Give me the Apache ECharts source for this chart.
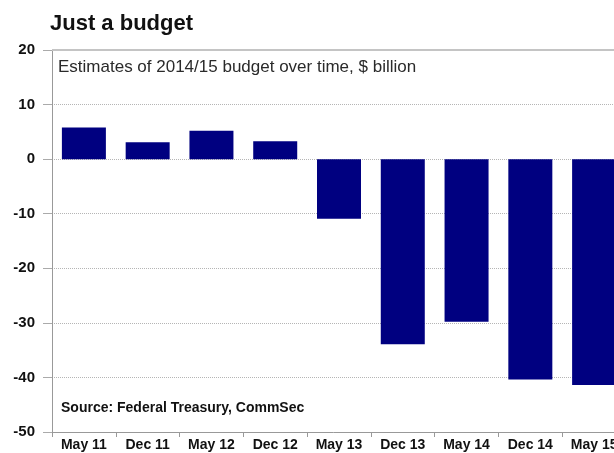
<!DOCTYPE html>
<html>
<head>
<meta charset="utf-8">
<script src="https://cdn.jsdelivr.net/npm/echarts@6/dist/echarts.min.js"></script>
<style>
html,body{margin:0;padding:0;background:#fff;}
#c{width:614px;height:453px;}
</style>
</head>
<body>
<div id="c"></div>
<script>
var categories = ['May 11','Dec 11','May 12','Dec 12','May 13','Dec 13','May 14','Dec 14','May 15'];
var budgetEstimates = [5.8, 3.1, 5.2, 3.3, -10.9, -33.9, -29.8, -40.4, -41.4];
var yMin = -50, yMax = 20, yStep = 10;
var titleText = 'Just a budget';
var subtitleText = 'Estimates of 2014/15 budget over time, $ billion';
var sourceText = 'Source: Federal Treasury, CommSec';

var FONT = '"Liberation Sans", Arial, sans-serif';
var chart = echarts.init(document.getElementById('c'), null, {renderer: 'canvas'});
chart.setOption({
  animation: false,
  backgroundColor: '#ffffff',
  title: [
    {text: titleText, left: 50, top: 13, padding: 0,
     textStyle: {fontFamily: FONT, fontSize: 22, fontWeight: 'bold', color: '#111'}},
    {text: subtitleText, left: 58, top: 59, padding: 0,
     textStyle: {fontFamily: FONT, fontSize: 17, fontWeight: 'normal', color: '#2a2a2a'}},
    {text: sourceText, left: 61, top: 401, padding: 0,
     textStyle: {fontFamily: FONT, fontSize: 14, fontWeight: 'bold', color: '#111'}}
  ],
  grid: {left: 52, top: 50, width: 574, height: 382, containLabel: false, outerBoundsMode: 'none'},
  xAxis: {
    type: 'category',
    data: categories,
    boundaryGap: true,
    axisLine: {show: true, onZero: false, lineStyle: {color: '#999', width: 1}},
    axisTick: {show: true, length: 5, lineStyle: {color: '#999'}},
    axisLabel: {fontFamily: FONT, fontSize: 14, fontWeight: 'bold', color: '#111', margin: 6, interval: 0},
    splitLine: {show: false}
  },
  yAxis: {
    type: 'value',
    min: yMin, max: yMax, interval: yStep,
    axisLine: {show: true, lineStyle: {color: '#999', width: 1}},
    axisTick: {show: true, length: 9, lineStyle: {color: '#aaa'}},
    axisLabel: {fontFamily: FONT, fontSize: 15, fontWeight: 'bold', color: '#111', margin: 17},
    splitLine: {show: true, lineStyle: {color: '#b5b5b5', type: 'dotted', width: 1}}
  },
  series: [{
    type: 'bar',
    data: budgetEstimates,
    barWidth: 44,
    itemStyle: {color: '#000080'},
    markLine: {
      silent: true,
      symbol: 'none',
      label: {show: false},
      lineStyle: {color: '#c4c4c4', type: 'solid', width: 2},
      data: [{yAxis: yMax}]
    }
  }]
});
</script>
</body>
</html>
